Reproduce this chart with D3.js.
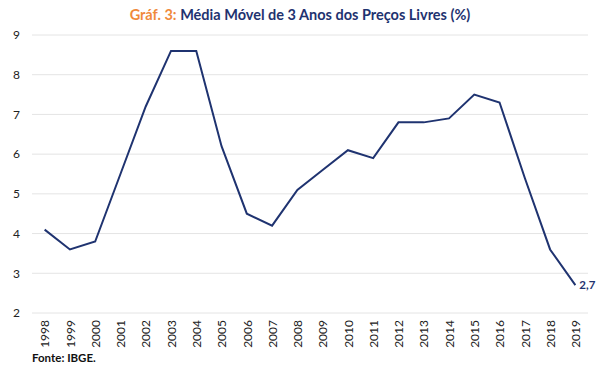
<!DOCTYPE html>
<html><head><meta charset="utf-8">
<script src="https://cdn.jsdelivr.net/npm/d3@7"></script>
<style>body{margin:0;background:#fff;}svg{display:block;}</style>
</head><body>
<div id="chart"></div>
<script>
const years = ["1998","1999","2000","2001","2002","2003","2004","2005","2006","2007","2008","2009","2010","2011","2012","2013","2014","2015","2016","2017","2018","2019"];
const values = [4.1,3.6,3.8,5.5,7.2,8.6,8.6,6.2,4.5,4.2,5.1,5.6,6.1,5.9,6.8,6.8,6.9,7.5,7.3,5.4,3.6,2.7];
const yTicks = [2,3,4,5,6,7,8,9];

const W = 600, H = 369;
const m = {left:32, right:12, top:35, bottom:56};
const navy = "#1f3370";
const font = "Lato, 'Open Sans', sans-serif";

const svg = d3.select("#chart").append("svg").attr("width", W).attr("height", H);

const x = d3.scalePoint().domain(years).range([m.left, W - m.right]).padding(0.5);
const y = d3.scaleLinear().domain([2, 9]).range([H - m.bottom, m.top]);

// grid
svg.append("g").selectAll("line").data(yTicks).join("line")
  .attr("x1", m.left).attr("x2", W - m.right)
  .attr("y1", d => y(d)).attr("y2", d => y(d))
  .attr("stroke", "#e4e4e4").attr("stroke-width", 1);

// y axis labels
const ya = svg.append("g").attr("transform", `translate(${m.left},0)`)
  .call(d3.axisLeft(y).tickValues(yTicks).tickFormat(d3.format("d")).tickSize(0).tickPadding(12));
ya.select(".domain").remove();
ya.selectAll("text").attr("font-family", font).attr("font-size", 12).attr("fill", "#222");

// x axis labels
const xa = svg.append("g").attr("transform", `translate(0,${H - m.bottom})`)
  .call(d3.axisBottom(x).tickSize(0).tickPadding(0));
xa.select(".domain").remove();
xa.selectAll("text")
  .attr("font-family", font).attr("font-size", 12).attr("fill", "#222")
  .attr("transform", "rotate(-90)")
  .attr("text-anchor", "end")
  .attr("dy", "0.35em").attr("x", -7).attr("y", 0);

// line
svg.append("path").datum(values)
  .attr("fill", "none").attr("stroke", navy).attr("stroke-width", 2)
  .attr("stroke-linejoin", "miter")
  .attr("d", d3.line().x((d, i) => x(years[i])).y(d => y(d)));

// end label
const lastI = values.length - 1;
svg.append("text")
  .attr("x", x(years[lastI]) + 4).attr("y", y(values[lastI]) + 4)
  .attr("font-family", font).attr("font-size", 11.5).attr("font-weight", "bold")
  .attr("fill", navy).text(String(values[lastI]).replace(".", ","));

// title
const t = svg.append("text").attr("x", 300).attr("y", 20).attr("text-anchor", "middle")
  .attr("font-family", font).attr("font-size", 14.5).attr("font-weight", "bold");
t.append("tspan").attr("fill", "#f08a3c").text("Gráf. 3: ");
t.append("tspan").attr("fill", "#1f3370").text("Média Móvel de 3 Anos dos Preços Livres (%)");

// source
svg.append("text").attr("x", 32).attr("y", 362)
  .attr("font-family", font).attr("font-size", 11.5).attr("font-weight", "bold")
  .attr("fill", "#111").text("Fonte: IBGE.");
</script>
</body></html>
